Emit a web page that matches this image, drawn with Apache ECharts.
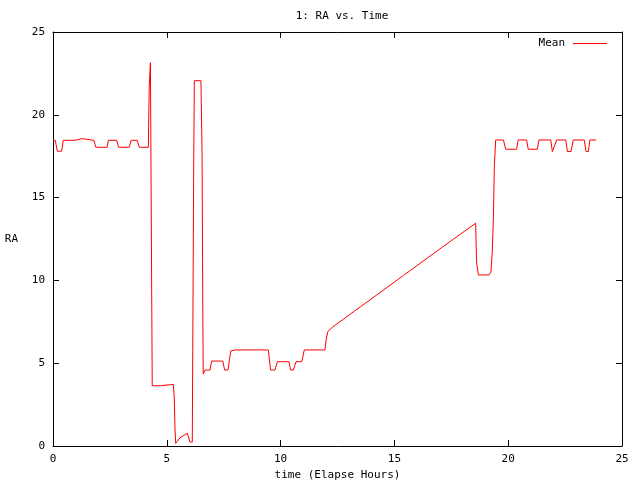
<!DOCTYPE html>
<html>
<head>
<meta charset="utf-8">
<script src="https://cdn.jsdelivr.net/npm/echarts@6/dist/echarts.min.js"></script>
<style>html,body{margin:0;padding:0;background:#fff}#c{width:640px;height:480px}</style>
</head>
<body>
<div id="c"></div>
<script>
var timeHours = [0, 0.1, 0.19, 0.38, 0.45, 0.97, 1.03, 1.27, 1.33, 1.8, 1.88, 2.38, 2.43, 2.8, 2.88, 3.35, 3.43, 3.7, 3.79, 4.19,
  4.2, 4.23, 4.28, 4.3, 4.34, 4.36, 4.72, 4.77, 5.29, 5.33, 5.36, 5.39, 5.58, 5.9, 6.02, 6.12, 6.14, 6.18, 6.21, 6.5,
  6.55, 6.58, 6.6, 6.69, 6.9, 6.97, 7.46, 7.54, 7.69, 7.81, 8.0, 9.46, 9.56, 9.75, 9.86, 10.37, 10.44, 10.56, 10.68, 10.93,
  11.04, 11.95, 12.0, 12.07, 12.3, 13.5, 14.5, 15.4, 16.5, 17.5, 18.57, 18.61, 18.69, 19.16, 19.24, 19.3, 19.35, 19.39, 19.45, 19.79,
  19.89, 20.37, 20.44, 20.81, 20.88, 21.28, 21.35, 21.87, 21.94, 22.02, 22.13, 22.53, 22.6, 22.76, 22.86, 23.34, 23.42, 23.52, 23.59, 23.86];
var raMean = [18.46, 18.46, 17.8, 17.8, 18.46, 18.46, 18.56, 18.56, 18.46, 18.46, 18.04, 18.04, 18.46, 18.46, 18.04, 18.04, 18.46, 18.46, 18.04, 18.04,
  19.28, 21.8, 23.15, 18.28, 8.5, 3.64, 3.64, 3.72, 3.72, 2.84, 1.03, 0.16, 0.5, 0.77, 0.24, 0.24, 5.7, 16.6, 22.06, 22.06,
  17.6, 8.7, 4.35, 4.59, 4.59, 5.13, 5.13, 4.59, 4.59, 5.74, 5.8, 5.8, 4.59, 4.59, 5.09, 5.09, 4.59, 4.59, 5.09, 5.09,
  5.8, 5.8, 6.4, 6.9, 7.2, 8.4, 9.4, 10.3, 11.4, 12.4, 13.45, 11.1, 10.33, 10.33, 10.5, 11.73, 13.75, 16.87, 18.48, 18.48,
  17.92, 17.92, 18.48, 18.48, 17.92, 17.92, 18.48, 18.48, 17.78, 17.78, 18.48, 18.48, 17.78, 17.78, 18.48, 18.48, 17.78, 17.78, 18.48, 18.48];
var xTicks = [0, 5, 10, 15, 20, 25];
var yTicks = [0, 5, 10, 15, 20, 25];

var font = 'DejaVu Sans Mono';
var chart = echarts.init(document.getElementById('c'), null, {renderer: 'canvas'});
var pts = timeHours.map(function (t, i) { return [t, raMean[i]]; });
function axisBase(showLabel) {
  return {
    type: 'value', min: xTicks[0], max: xTicks[xTicks.length - 1], interval: 5,
    axisLine: {show: true, onZero: false, lineStyle: {color: '#000', width: 1}},
    axisTick: {show: true, inside: true, length: 6, lineStyle: {color: '#000'}},
    axisLabel: {show: showLabel, color: '#000', fontFamily: font, fontSize: 11, margin: 8},
    splitLine: {show: false}
  };
}
var xb = axisBase(true);
xb.name = 'time (Elapse Hours)';
xb.nameLocation = 'middle';
xb.nameGap = 22;
xb.nameTextStyle = {color: '#000', fontFamily: font, fontSize: 11};
var xt = axisBase(false); xt.position = 'top';
var yl = axisBase(true);
yl.min = yTicks[0]; yl.max = yTicks[yTicks.length - 1];
yl.name = 'RA'; yl.nameLocation = 'middle'; yl.nameRotate = 0; yl.nameGap = 35;
yl.nameTextStyle = {color: '#000', fontFamily: font, fontSize: 11};
var yr = axisBase(false); yr.min = yl.min; yr.max = yl.max; yr.position = 'right';

chart.setOption({
  animation: false,
  backgroundColor: '#fff',
  title: {text: '1: RA vs. Time', left: 337, top: 6, textAlign: 'center',
    textStyle: {fontFamily: font, fontSize: 11, fontWeight: 'normal', color: '#000'}},
  legend: {right: 28, top: 33, align: 'right', icon: 'rect', itemWidth: 34, itemHeight: 1, itemGap: 8,
    textStyle: {fontFamily: font, fontSize: 11, color: '#000', padding: [0, 3, 0, 0]},
    data: [{name: 'Mean', itemStyle: {color: '#ff0000'}, lineStyle: {color: '#ff0000'}}]},
  grid: {left: 53, right: 18, top: 32, bottom: 34, show: false, outerBoundsMode: 'none', containLabel: false},
  xAxis: [xb, xt],
  yAxis: [yl, yr],
  series: [{name: 'Mean', type: 'line', data: pts, showSymbol: false, symbol: 'none',
    lineStyle: {color: '#ff0000', width: 1}, itemStyle: {color: '#ff0000'}}]
});
</script>
</body>
</html>
